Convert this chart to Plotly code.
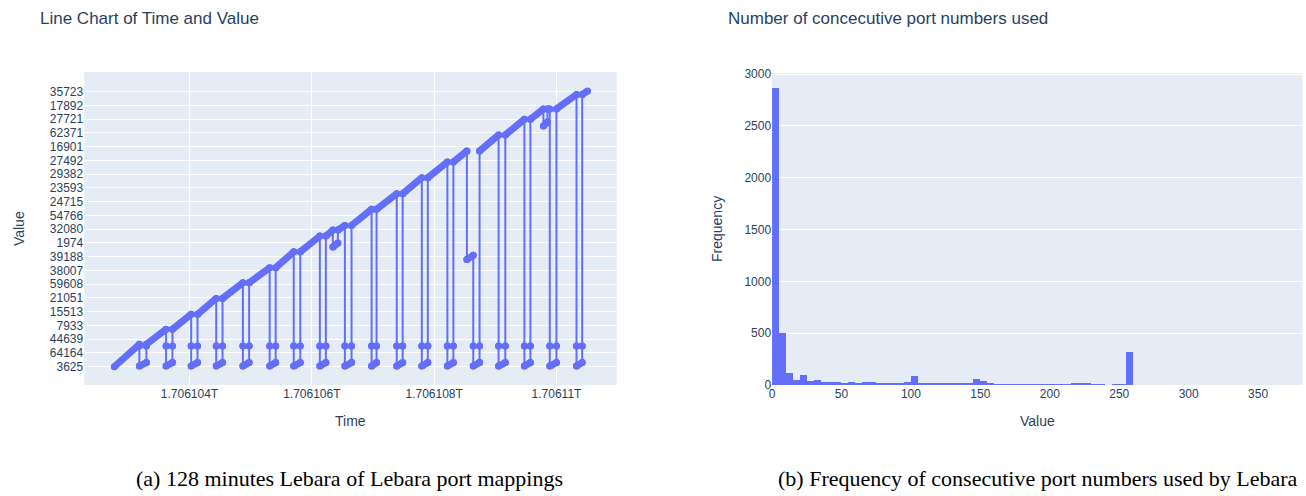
import plotly.graph_objects as go

W, H = 1306, 496
BLUE = "#636efa"
INK = "#2a3f5f"
SANS = "Liberation Sans, Arial, sans-serif"
SERIF = "Liberation Serif, Times New Roman, serif"

# ---------------- left panel: port mappings over time ----------------
T0_MS = 1706102770000  # first probe, epoch milliseconds

# observed port numbers, in order of first appearance (one label per axis row)
port_labels = ["3625", "64164", "44639", "7933", "15513", "21051", "59608",
               "38007", "39188", "1974", "32080", "54766", "24715", "23593",
               "29382", "27492", "16901", "62371", "27721", "17892", "35723"]

# probe path: seconds after the first probe and row on the port axis
path_s = [
    0,
    410, 410, 410, 525, 525, 525,
    847, 847, 847, 951, 951, 951,
    1257, 1257, 1257, 1361, 1361, 1361,
    1667, 1667, 1667, 1770, 1770, 1770,
    2103, 2103, 2103, 2205, 2205, 2205,
    2541, 2541, 2541, 2639, 2639, 2639,
    2934, 2934, 2934, 3041, 3041, 3041,
    3361, 3361, 3361, 3459, 3459, 3459,
    3574, 3574, 3656, 3656,
    3770, 3770, 3770, 3879, 3879, 3879,
    4207, 4207, 4207, 4288, 4288, 4288,
    4618, 4618, 4618, 4715, 4715, 4715,
    5028, 5028, 5028, 5126, 5126, 5126,
    5446, 5446, 5446, 5544, 5544, 5544,
    5765, 5765, 5869, 5869, 5869, 5972, 5972, 5972,
    6283, 6283, 6283, 6393, 6393, 6393,
    6705, 6705, 6705, 6803, 6803, 6803,
    7016, 7016, 7082, 7082,
    7120, 7120, 7120, 7229, 7229, 7229,
    7557, 7557, 7557, 7650, 7650, 7650,
    7738,
]
path_row = [
    0.00,
    1.63, 1.50, 0.05, 0.30, 1.50, 1.63,
    2.72, 1.50, 0.05, 0.30, 1.50, 2.72,
    3.81, 1.50, 0.05, 0.30, 1.50, 3.81,
    4.97, 1.50, 0.05, 0.30, 1.50, 4.97,
    6.11, 1.50, 0.05, 0.30, 1.50, 6.11,
    7.20, 1.50, 0.05, 0.30, 1.50, 7.20,
    8.36, 1.50, 0.05, 0.30, 1.50, 8.36,
    9.50, 1.50, 0.05, 0.30, 1.50, 9.50,
    9.94, 8.70, 9.00, 9.94,
    10.28, 1.50, 0.05, 0.30, 1.50, 10.28,
    11.45, 1.50, 0.05, 0.30, 1.50, 11.45,
    12.58, 1.50, 0.05, 0.30, 1.50, 12.58,
    13.75, 1.50, 0.05, 0.30, 1.50, 13.75,
    14.89, 1.50, 0.05, 0.30, 1.50, 14.89,
    15.69, 7.80, 8.10, 1.50, 0.05, 0.30, 1.50, 15.69,
    16.85, 1.50, 0.05, 0.30, 1.50, 16.85,
    18.00, 1.50, 0.05, 0.30, 1.50, 18.00,
    18.75, 17.50, 17.80, 18.75,
    18.75, 1.50, 0.05, 0.30, 1.50, 18.75,
    19.80, 1.50, 0.05, 0.30, 1.50, 19.80,
    20.05,
]

# ---------------- right panel: run lengths of consecutive ports ----------------
bin_left = list(range(0, 260, 5))
bin_count = [
    2865, 505, 115, 48, 98, 38, 48, 29, 29, 29,   # 0-45
    13, 32, 22, 32, 32, 22, 22, 13, 22, 32,       # 50-95
    87, 22, 10, 10, 10, 10, 10, 10, 10, 58,       # 100-145
    38, 16, 5, 5, 5, 5, 5, 5, 5, 5,               # 150-195
    5, 5, 8, 18, 10, 10, 5, 5, 0, 5,              # 200-245
    5, 315,                                       # 250-255
]
BIN_W = 5

# split the path into fresh-port runs (time advances) and resets (vertical jumps)
run_x, run_y, jump_x, jump_y = [], [], [], []
for i in range(len(path_s) - 1):
    xa = T0_MS + path_s[i] * 1000
    xb = T0_MS + path_s[i + 1] * 1000
    seg = ([xa, xb, None], [path_row[i], path_row[i + 1], None])
    if path_s[i] == path_s[i + 1]:
        jump_x += seg[0]
        jump_y += seg[1]
    else:
        run_x += seg[0]
        run_y += seg[1]

fig = go.Figure()
fig.add_trace(go.Scatter(
    x=jump_x, y=jump_y, mode="lines+markers",
    line=dict(color=BLUE, width=2), marker=dict(color=BLUE, size=7),
    xaxis="x", yaxis="y", hoverinfo="skip", showlegend=False))
fig.add_trace(go.Scatter(
    x=run_x, y=run_y, mode="lines+markers",
    line=dict(color=BLUE, width=7), marker=dict(color=BLUE, size=7),
    xaxis="x", yaxis="y", hoverinfo="skip", showlegend=False))
fig.add_trace(go.Bar(
    x=[b + BIN_W / 2 for b in bin_left], y=bin_count, width=BIN_W,
    marker=dict(color=BLUE, line=dict(width=0)),
    xaxis="x2", yaxis="y2", showlegend=False))


# page positions in pixels, passed through a small linear correction for the
# inset at which the page gets captured, then converted to paper units
def px_x(p):
    return ((p - 4.0) / 0.995) / W


def px_y(p):
    return 1 - ((p - 4.9) / 0.974) / H


# time axis: 122 px per 2,000,000 ms, tick 1.706104T sits at x=190
MS_PER_PX = 2e6 / 122
T_TICK0 = 1.706104e12
x_lo = T_TICK0 - (190 - 85) * MS_PER_PX
x_hi = T_TICK0 + (616 - 190) * MS_PER_PX

fig.update_layout(
    width=W, height=H,
    margin=dict(l=0, r=0, t=0, b=0),
    template="plotly",
    font=dict(family=SANS, size=12, color=INK),
    paper_bgcolor="white",
    plot_bgcolor="#e5ecf6",
    bargap=0,
    showlegend=False,
    xaxis=dict(domain=[px_x(85), px_x(616)], anchor="y", range=[x_lo, x_hi],
               tick0=T_TICK0, dtick=2e6, showgrid=True, gridcolor="white",
               zeroline=False),
    yaxis=dict(domain=[px_y(384), px_y(71)], anchor="x", range=[-1.33, 21.43],
               tickmode="array", tickvals=list(range(len(port_labels))),
               ticktext=port_labels, showgrid=True, gridcolor="white",
               zeroline=False),
    xaxis2=dict(domain=[px_x(771), px_x(1300)], anchor="y2", range=[0, 382],
                tick0=0, dtick=50, showgrid=False, zeroline=False),
    yaxis2=dict(domain=[px_y(384), px_y(72)], anchor="x2", range=[0, 3010],
                tick0=0, dtick=500, showgrid=True, gridcolor="white",
                zeroline=False),
)

notes = [
    dict(text="Line Chart of Time and Value", x=px_x(39), y=px_y(17),
         xanchor="left", font=dict(size=17, color=INK, family=SANS)),
    dict(text="Number of concecutive port numbers used", x=px_x(725), y=px_y(17),
         xanchor="left", font=dict(size=17, color=INK, family=SANS)),
    dict(text="Time", x=px_x(350.5), y=px_y(420), xanchor="center",
         font=dict(size=14, color=INK, family=SANS)),
    dict(text="Value", x=px_x(20), y=px_y(228), xanchor="center", textangle=-90,
         font=dict(size=14, color=INK, family=SANS)),
    dict(text="Value", x=px_x(1036), y=px_y(420), xanchor="center",
         font=dict(size=14, color=INK, family=SANS)),
    dict(text="Frequency", x=px_x(716), y=px_y(228), xanchor="center", textangle=-90,
         font=dict(size=14, color=INK, family=SANS)),
    dict(text="(a) 128 minutes Lebara of Lebara port mappings", x=px_x(349.5),
         y=px_y(477.5), xanchor="center", font=dict(size=22, color="black", family=SERIF)),
    dict(text="(b) Frequency of consecutive port numbers used by Lebara", x=px_x(1036),
         y=px_y(477.5), xanchor="center", font=dict(size=22, color="black", family=SERIF)),
]
for n in notes:
    fig.add_annotation(xref="paper", yref="paper", yanchor="middle",
                       showarrow=False, **n)

fig.write_html("out.html")
